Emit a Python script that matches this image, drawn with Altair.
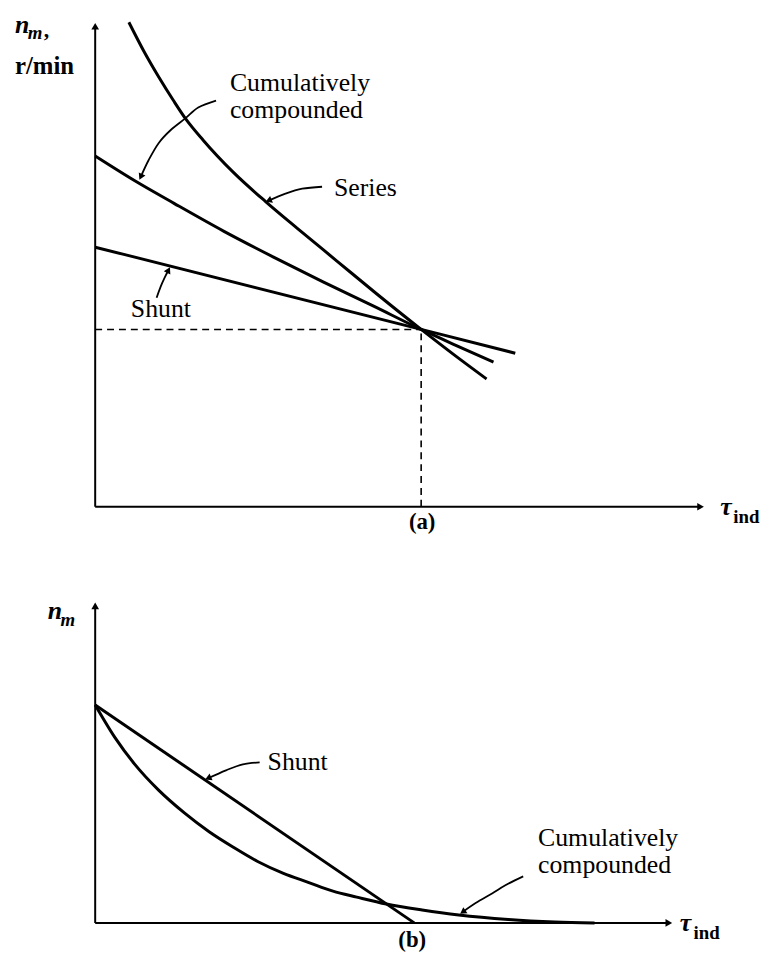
import altair as alt
import pandas as pd
import numpy as np

FONT = "Liberation Serif"

# ---------------- Panel (a): speed n_m vs induced torque ----------------
a_series_tau = [34, 49, 64, 79, 91, 109, 139, 172, 204, 244, 284, 329, 364, 395]
a_series_n = [489, 460, 434, 410, 392, 370, 338, 308, 281, 248, 215, 179, 152, 129]
a_cum_tau = [0, 40, 80, 130, 180, 230, 280, 329, 364, 402]
a_cum_n = [354, 329, 306, 278, 252, 227, 203, 179, 163, 146]
a_shunt_tau = [0, 329, 424]
a_shunt_n = [262, 179, 155]
a_full_load = (329, 179)
a_axis_top = 485
a_axis_right = 611

# label arrows (panel a)
a_arrow_cum_tau = [122, 104, 91, 76, 64, 54, 46]
a_arrow_cum_n = [410, 403, 392, 380, 367, 350, 333]
a_arrow_series_tau = [229, 209, 192, 175]
a_arrow_series_n = [323, 321, 316, 309]
a_arrow_shunt_tau = [62, 66, 70, 74]
a_arrow_shunt_n = [211, 222, 231, 239]

# ---------------- Panel (b) ----------------
b_shunt_tau = [0, 322]
b_shunt_n = [220, 0]
b_cum_tau = [0, 20, 40, 64, 90, 115, 140, 164, 190, 215, 240, 264, 294, 330, 367, 417, 464, 504]
b_cum_n = [220, 187, 160, 134, 111, 92, 76, 62, 50, 41, 32, 26, 19, 13, 8, 3.5, 1, 0]
b_axis_top = 320
b_axis_right = 579

b_arrow_shunt_tau = [166, 149, 132, 114]
b_arrow_shunt_n = [162, 160, 154, 146]
b_arrow_cum_tau = [432, 414, 401, 384, 371]
b_arrow_cum_n = [47, 38, 30, 20, 11]

XS = alt.Scale(domain=[-88, 664], nice=False, zero=False)
YA = alt.Scale(domain=[-38, 499], nice=False, zero=False)
YB = alt.Scale(domain=[-28, 382], nice=False, zero=False)


def xy(ys):
    return dict(x=alt.X("x:Q", scale=XS, axis=None),
                y=alt.Y("y:Q", scale=ys, axis=None))


def curves_df(curves):
    rows = []
    for name, xs, ys in curves:
        for i, (a, b) in enumerate(zip(xs, ys)):
            rows.append({"curve": name, "order": i, "x": a, "y": b})
    return pd.DataFrame(rows)


def heads_df(arrows):
    rows = []
    for xs, ys in arrows:
        dx = xs[-1] - xs[-2]
        dy = ys[-1] - ys[-2]
        ang = (np.degrees(np.arctan2(dx, dy)) + 360) % 360
        rows.append({"x": xs[-1], "y": ys[-1], "angle": float(ang)})
    return pd.DataFrame(rows)


def text_layer(ys, rows, size, style="normal", weight="normal", align="left"):
    df = pd.DataFrame(rows, columns=["x", "y", "label"])
    return alt.Chart(df).mark_text(
        font=FONT, fontSize=size, fontStyle=style, fontWeight=weight,
        align=align, baseline="alphabetic", color="black"
    ).encode(**xy(ys), text="label:N")


def panel(ys, height, curves, arrows, axis_top, axis_right, texts, dashed=None):
    layers = []
    axes = pd.DataFrame([
        {"x": 0, "y": 0, "x2": 0, "y2": axis_top},
        {"x": 0, "y": 0, "x2": axis_right, "y2": 0},
    ])
    layers.append(alt.Chart(axes).mark_rule(color="black", strokeWidth=2).encode(
        **xy(ys), x2="x2:Q", y2="y2:Q"))
    heads_axes = pd.DataFrame([
        {"x": 0, "y": axis_top, "angle": 0.0},
        {"x": axis_right, "y": 0, "angle": 90.0},
    ])
    layers.append(alt.Chart(heads_axes).mark_point(
        shape="triangle-up", filled=True, color="black", opacity=1, size=60
    ).encode(**xy(ys), angle=alt.Angle("angle:Q", scale=None)))
    if dashed is not None:
        fx, fy = dashed
        dd = pd.DataFrame([
            {"x": 0, "y": fy, "x2": fx, "y2": fy},
            {"x": fx, "y": 0, "x2": fx, "y2": fy},
        ])
        layers.append(alt.Chart(dd).mark_rule(
            color="black", strokeWidth=1.6, strokeDash=[7, 5]
        ).encode(**xy(ys), x2="x2:Q", y2="y2:Q"))
    layers.append(alt.Chart(curves_df(curves)).mark_line(
        color="black", strokeWidth=3, interpolate="monotone"
    ).encode(**xy(ys), detail="curve:N", order="order:Q"))
    adf = curves_df([(f"arr{i}", a[0], a[1]) for i, a in enumerate(arrows)])
    layers.append(alt.Chart(adf).mark_line(
        color="black", strokeWidth=1.8, interpolate="cardinal"
    ).encode(**xy(ys), detail="curve:N", order="order:Q"))
    layers.append(alt.Chart(heads_df(arrows)).mark_point(
        shape="triangle-up", filled=True, color="black", opacity=1, size=55
    ).encode(**xy(ys), angle=alt.Angle("angle:Q", scale=None)))
    layers.extend(texts)
    return alt.layer(*layers).properties(width=752, height=height)


texts_a = [
    text_layer(YA, [(-81, 478, "n")], 26, style="italic", weight="bold"),
    text_layer(YA, [(-68, 472, "m")], 19, style="italic", weight="bold"),
    text_layer(YA, [(-52, 474, ",")], 22, weight="bold"),
    text_layer(YA, [(-81, 437, "r/min")], 25, weight="bold"),
    text_layer(YA, [(136, 420, "Cumulatively"), (136, 392, "compounded"),
                    (241, 314, "Series"), (36, 192, "Shunt")], 26),
    text_layer(YA, [(631, -8, "τ")], 26, style="italic", weight="bold"),
    text_layer(YA, [(644, -16, "ind")], 19, weight="bold"),
    text_layer(YA, [(330, -22, "(a)")], 23, weight="bold", align="center"),
]

texts_b = [
    text_layer(YB, [(-48, 307, "n")], 26, style="italic", weight="bold"),
    text_layer(YB, [(-35, 300, "m")], 19, style="italic", weight="bold"),
    text_layer(YB, [(174, 154, "Shunt"), (447, 78, "Cumulatively"),
                    (447, 50, "compounded")], 26),
    text_layer(YB, [(590, -8, "τ")], 26, style="italic", weight="bold"),
    text_layer(YB, [(604, -16, "ind")], 19, weight="bold"),
    text_layer(YB, [(320, -24, "(b)")], 23, weight="bold", align="center"),
]

panel_a = panel(
    YA, 537,
    [("Series", a_series_tau, a_series_n),
     ("Cumulatively compounded", a_cum_tau, a_cum_n),
     ("Shunt", a_shunt_tau, a_shunt_n)],
    [(a_arrow_cum_tau, a_arrow_cum_n),
     (a_arrow_series_tau, a_arrow_series_n),
     (a_arrow_shunt_tau, a_arrow_shunt_n)],
    a_axis_top, a_axis_right, texts_a, dashed=a_full_load)

panel_b = panel(
    YB, 410,
    [("Shunt", b_shunt_tau, b_shunt_n),
     ("Cumulatively compounded", b_cum_tau, b_cum_n)],
    [(b_arrow_shunt_tau, b_arrow_shunt_n),
     (b_arrow_cum_tau, b_arrow_cum_n)],
    b_axis_top, b_axis_right, texts_b)

chart = alt.vconcat(panel_a, panel_b, spacing=0).properties(
    padding=0, background="white"
).configure_view(stroke=None)

chart.save("out.html", embed_options={"renderer": "svg", "actions": False})
